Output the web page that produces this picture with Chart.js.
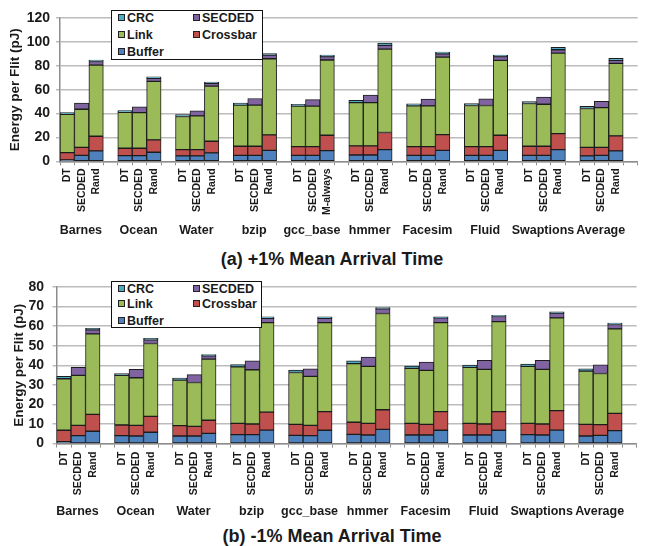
<!DOCTYPE html>
<html>
<head>
<meta charset="utf-8">
<script src="https://cdn.jsdelivr.net/npm/chart.js@4/dist/chart.umd.min.js"></script>
<style>
  html, body { margin: 0; padding: 0; background: #fff; }
  #wrap { position: relative; width: 646px; height: 546px; font-family: "Liberation Sans", Arial, sans-serif; }
  .panel { position: absolute; left: 0; }
  .legend { position: absolute; background: #fff; border: 1px solid #111; box-sizing: border-box; }
  .item { position: absolute; font-weight: bold; font-size: 12.5px; color: #1a1a1a; white-space: nowrap; line-height: 14px; }
  .item span.sw { position: absolute; left: 0; top: 3px; width: 7px; height: 7px; border: 1px solid #222; box-sizing: border-box; }
  .item span.tx { position: absolute; left: 9px; top: 0; }
  .cap { position: absolute; left: 132px; width: 400px; text-align: center; font-weight: bold; font-size: 18px; color: #1a1a1a; line-height: 20px; }
</style>
</head>
<body>
<div id="wrap">
  <canvas id="ca" class="panel" width="646" height="244" style="top:0px"></canvas>
  <div id="legA" class="legend" style="left:111px;top:10px;width:152px;height:50px"></div>
  <div class="cap" style="top:249px">(a) +1% Mean Arrival Time</div>
  <canvas id="cb" class="panel" width="646" height="254" style="top:270px"></canvas>
  <div id="legB" class="legend" style="left:111px;top:281px;width:151px;height:47px"></div>
  <div class="cap" style="top:526px">(b) -1% Mean Arrival Time</div>
</div>
<script>
// ---------- data ----------
const benchmarks = ['Barnes','Ocean','Water','bzip','gcc_base','hmmer','Facesim','Fluid','Swaptions','Average'];
const barLabelsA = ['DT','SECDED','Rand','DT','SECDED','Rand','DT','SECDED','Rand','DT','SECDED','Rand',
                    'DT','SECDED','M-always','DT','SECDED','Rand','DT','SECDED','Rand','DT','SECDED','Rand',
                    'DT','SECDED','Rand','DT','SECDED','Rand'];
const barLabelsB = ['DT','SECDED','Rand','DT','SECDED','Rand','DT','SECDED','Rand','DT','SECDED','Rand',
                    'DT','SECDED','Rand','DT','SECDED','Rand','DT','SECDED','Rand','DT','SECDED','Rand',
                    'DT','SECDED','Rand','DT','SECDED','Rand'];
const seriesNames  = ['Buffer','Crossbar','Link','SECDED','CRC'];
const seriesColors = ['#4f81bd','#c0504d','#9bbb59','#8064a2','#4bacc6'];

// (a) +1% mean arrival time — segment values (pJ), order per benchmark: DT, SECDED, Rand
const aBuffer   = [1.2,5.0,8.7, 4.8,4.8,7.6, 4.5,4.5,7.0, 5.0,5.0,9.2, 5.0,5.0,9.0, 5.3,5.3,9.8, 5.0,5.0,9.2, 5.0,5.0,9.2, 5.0,5.0,9.8, 4.5,5.0,8.7];
const aCrossbar = [6.1,6.7,12.3, 6.1,6.1,10.3, 5.3,5.3,9.8, 7.6,7.6,12.9, 7.3,7.3,12.8, 7.6,7.6,14.3, 7.3,7.3,13.2, 7.3,7.3,12.6, 7.6,7.6,13.4, 7.2,6.7,12.6];
const aLink     = [32.1,31.9,59.6, 30.2,29.9,49.0, 27.7,28.2,46.1, 34.4,34.4,63.8, 33.9,33.9,63.0, 36.3,36.3,69.9, 34.1,34.1,64.9, 34.4,34.4,62.7, 35.8,35.2,67.4, 32.5,33.3,60.7];
const aSECDED   = [null,5.1,3.0, null,4.8,2.5, null,4.2,2.3, null,5.6,3.1, null,5.5,2.8, null,6.2,3.1, null,5.6,2.8, null,5.6,3.1, null,5.9,2.8, null,5.3,2.5];
const aCRC      = [1.4,null,1.2, 1.4,null,1.4, 1.6,null,1.1, 1.7,null,1.3, 1.6,null,1.4, 1.8,null,1.9, 1.7,null,1.4, 1.7,null,1.4, 1.7,null,2.0, 1.8,null,1.7];

// (b) -1% mean arrival time
const bBuffer   = [1.0,4.1,6.3, 4.1,3.9,5.8, 3.9,3.9,5.2, 4.6,4.6,6.9, 4.2,4.1,6.8, 4.7,4.4,7.3, 4.4,4.4,6.8, 4.4,4.4,6.8, 4.6,4.4,6.9, 3.9,4.2,6.6];
const bCrossbar = [5.8,5.2,8.6, 5.4,5.4,8.1, 5.3,4.9,6.7, 5.7,5.4,9.2, 5.6,5.2,9.5, 6.2,5.9,10.0, 5.9,5.4,9.5, 5.9,5.6,9.5, 5.7,5.6,9.9, 5.9,5.5,8.8];
const bLink     = [26.3,25.5,41.1, 25.3,24.3,37.2, 23.2,22.4,31.2, 28.9,27.7,45.7, 26.5,25.0,45.5, 29.9,29.1,49.1, 28.1,27.6,45.5, 28.6,27.9,46.0, 29.1,27.9,47.4, 27.2,26.1,43.2];
const bSECDED   = [null,4.1,2.1, null,4.3,1.9, null,4.0,1.7, null,4.6,2.1, null,3.9,2.1, null,4.8,2.4, null,4.2,2.4, null,4.6,2.6, null,4.6,2.4, null,4.4,2.2];
const bCRC      = [1.2,null,0.8, 1.0,null,0.7, 1.1,null,0.7, 1.2,null,0.8, 1.2,null,0.8, 1.5,null,0.7, 1.2,null,0.5, 1.2,null,0.6, 1.2,null,0.7, 1.2,null,0.7];

const yMaxA = 120, yStepA = 20;
const yMaxB = 80,  yStepB = 10;

// ---------- helpers ----------
// insert an empty slot after every group of three bars
function withGaps(arr, blank) {
  const out = [];
  arr.forEach((v, i) => { out.push(v); if (i % 3 === 2) out.push(blank); });
  return out;
}

const FONT = '"Liberation Sans", Arial, sans-serif';
const TXT = '#1a1a1a';

function makeChart(id, labels, series, yMax, yStep, L) {
  const datasets = series.map((vals, i) => ({
    label: seriesNames[i],
    data: withGaps(vals, null),
    backgroundColor: seriesColors[i],
    borderColor: '#1c1c1c',
    borderWidth: 1,
    borderSkipped: false,
    barPercentage: 1,
    categoryPercentage: 1
  }));
  return new Chart(document.getElementById(id), {
    type: 'bar',
    data: { labels: withGaps(labels, ''), datasets },
    options: {
      responsive: false,
      animation: false,
      layout: { padding: { top: L.padTop, left: 0, right: 0, bottom: 0 } },
      plugins: { legend: { display: false }, tooltip: { enabled: false }, title: { display: false } },
      scales: {
        x: {
          stacked: true,
          weight: 0,
          offset: true,
          grid: { display: true, drawOnChartArea: false, drawTicks: true, tickLength: 4, offset: true, color: '#8c8c8c', lineWidth: 1 },
          border: { display: true, color: '#8c8c8c', width: 1.5 },
          ticks: { autoSkip: false, minRotation: 90, maxRotation: 90, padding: L.xPad, color: TXT,
                   font: { family: FONT, size: 10.5, weight: 'bold' } },
          afterFit: s => { s.height = L.xH; }
        },
        x2: {
          type: 'category',
          labels: benchmarks,
          position: 'bottom',
          weight: 1,
          offset: true,
          grid: { display: false, drawTicks: false },
          border: { display: false },
          ticks: { autoSkip: false, minRotation: 0, maxRotation: 0, padding: L.x2Pad, labelOffset: -8, color: TXT,
                   font: { family: FONT, size: 12.5, weight: 'bold' } },
          afterFit: s => { s.height = L.x2H; }
        },
        y: {
          stacked: true,
          min: 0, max: yMax,
          ticks: { stepSize: yStep, autoSkip: false, padding: L.yPad, color: TXT, font: { family: FONT, size: 14, weight: 'bold' } },
          grid: { color: '#bcbcbc', lineWidth: 1.5, drawTicks: true, tickLength: 4 },
          border: { display: true, color: '#8c8c8c', width: 1.5 },
          title: { display: true, text: 'Energy per Flit (pJ)', color: TXT,
                   font: { family: FONT, size: 13.5, weight: 'bold' }, padding: { top: L.titlePad, bottom: 0 } },
          afterFit: s => { s.width = L.yW; }
        }
      }
    }
  });
}

function makeLegend(id, rowTops) {
  const el = document.getElementById(id);
  const order = seriesNames.map((n, i) => i).reverse(); // CRC, SECDED, Link, Crossbar, Buffer
  order.forEach((si, k) => {
    const col = k % 2, row = Math.floor(k / 2);
    const it = document.createElement('div');
    it.className = 'item';
    it.style.left = (col === 0 ? 6 : 81) + 'px';
    it.style.top = rowTops[row] + 'px';
    it.innerHTML = '<span class="sw" style="background:' + seriesColors[si] + '"></span><span class="tx">' + seriesNames[si] + '</span>';
    el.appendChild(it);
  });
}

makeChart('ca', barLabelsA, [aBuffer, aCrossbar, aLink, aSECDED, aCRC], yMaxA, yStepA,
  { padTop: 18, xH: 56, x2H: 26.7, yW: 60, yPad: 6, xPad: 3, x2Pad: 5.5, titlePad: 7 });
makeChart('cb', barLabelsB, [bBuffer, bCrossbar, bLink, bSECDED, bCRC], yMaxB, yStepB,
  { padTop: 16.7, xH: 55, x2H: 25.4, yW: 56.5, yPad: 8.5, xPad: 4, x2Pad: 5, titlePad: 11 });

makeLegend('legA', [0, 17, 33.5]);
makeLegend('legB', [-0.5, 15, 31.5]);
</script>
</body>
</html>
